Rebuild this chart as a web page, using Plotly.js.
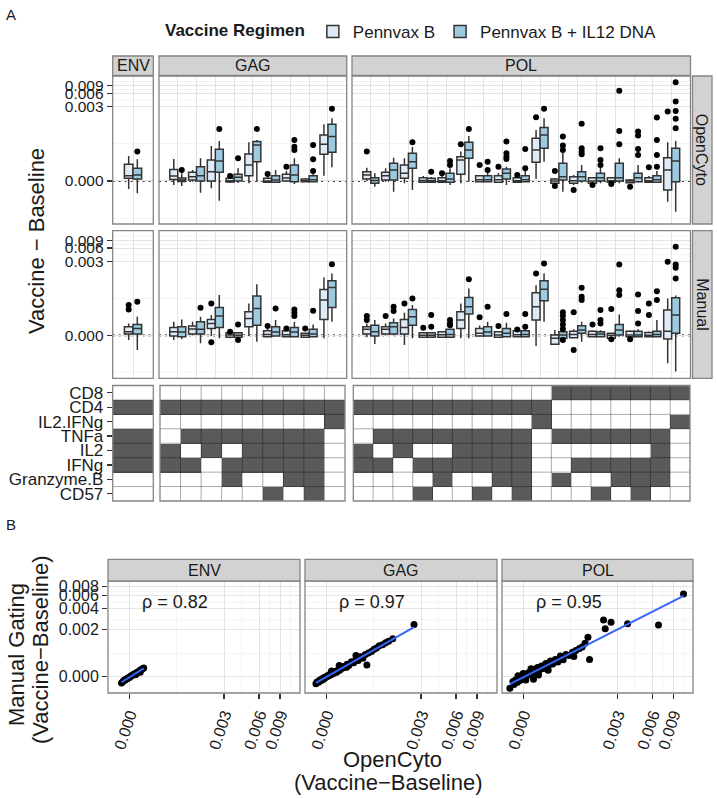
<!DOCTYPE html>
<html><head><meta charset="utf-8">
<script src="https://cdn.plot.ly/plotly-3.0.1.min.js"></script>
<style>html,body{margin:0;padding:0;background:#fff}#chart{width:717px;height:798px}</style>
</head><body><div id="chart"></div>
<script>
// ================= DATA =================
// All frequencies (Vaccine - Baseline) are stored in units of 1e-4.
const SCALE = 1e-4;
const regimens = ['Pennvax B', 'Pennvax B + IL12 DNA'];
const antigens = ['ENV', 'GAG', 'POL'];
const methods = ['OpenCyto', 'Manual'];
const markerNames = ['CD8', 'CD4', 'IL2.IFNg', 'TNFa', 'IL2', 'IFNg', 'Granzyme.B', 'CD57'];
const aTickVals = [0, 0.003, 0.006, 0.009];
const aTickText = ['0.000', '0.003', '0.006', '0.009'];
const bXTickVals = [0, 0.003, 0.006, 0.009];
const bXTickText = ['0.000', '0.003', '0.006', '0.009'];
const bYTickVals = [0, 0.002, 0.004, 0.006, 0.008];
const bYTickText = ['0.000', '0.002', '0.004', '0.006', '0.008'];
const rhoLabels = ['\u03c1 = 0.82', '\u03c1 = 0.97', '\u03c1 = 0.95'];

// Box rows: [lower whisker, q1, median, q3, upper whisker]
// ---- OpenCyto ----
const ocEnvB = [[-0.52,0.17,0.34,1.20,2.08]];
const ocEnvBOut = [[]];
const ocEnvI = [[-0.83,0.13,0.39,0.86,1.69]];
const ocEnvIOut = [[2.68]];

const ocGagB = [[-0.25,0.095,0.32,0.77,1.72],[-0.044,0.063,0.27,0.57,0.73],[-0.47,0,0.61,1.61,3.69],
 [-0.127,-0.063,0.019,0.17,0.19],[-0.146,0.34,1.13,2.34,4.53],[-0.127,-0.082,0,0.17,0.32],
 [-0.063,0,0.19,0.43,0.66],[-0.063,-0.044,0,0.127,0.19],[0.34,2.30,4.06,6.71,11.85]];
const ocGagBOut = [[],[],[],[0.32],[],[0.45],[0.99],[],[]];
const ocGagI = [[-0.32,-0.032,0.063,0.19,0.50],[-0.79,0,0.34,0.99,1.80],[-1.48,0.57,1.51,3.07,4.86],
 [-0.127,0,0.235,0.43,0.86],[-0.044,1.44,3.90,4.68,5.12],[-0.127,-0.082,0.063,0.34,0.73],
 [-0.19,-0.044,0.39,1.13,1.80],[-0.063,-0.044,0.082,0.34,0.45],[0.94,2.59,6.12,11.85,16.3]];
const ocGagIOut = [[0.73],[],[9.24],[1.80],[9.24],[],[2.95,3.55,5.12],[0.66,1.69,3.90],[26.6]];

const ocPolB = [[0,0.127,0.39,0.61,0.91],[-0.044,0.063,0.34,0.57,0.86],[-0.146,0.17,0.50,1.13,1.80],
 [-0.127,-0.082,0.032,0.21,0.32],[-0.127,-0.082,0.019,0.21,0.32],[-0.146,0.43,1.61,1.99,2.68],
 [-0.063,-0.044,0.082,0.34,0.34],[-0.127,-0.082,0.082,0.34,0.52],[-0.127,-0.082,0.019,0.21,0.32],
 [0.127,1.38,2.95,5.62,8.76],[-0.19,-0.146,0,0.127,0.19],[-0.25,-0.146,0.019,0.27,0.39],
 [-0.146,-0.146,0,0.21,0.25],[-0.108,-0.082,0.019,0.21,0.25],[-0.127,-0.108,0,0.063,0.127],
 [-0.127,-0.082,0.019,0.21,0.32],[-1.58,-0.59,0.73,1.87,4.53]];
const ocPolBOut = [[2.68],[],[],[],[0.50],[4.06],[1.13],[0.99],[0.39],[17.1],[0.66,-0.32],[-0.59],
 [-0.25],[-0.19],[-0.37],[0.94],[23.1]];
const ocPolI = [[-0.37,-0.146,0.032,0.21,0.50],[-0.71,0.063,0.73,1.29,1.87],[-0.59,0.86,1.44,2.44,3.49],
 [-0.127,-0.082,0.019,0.17,0.25],[-0.25,-0.082,0.127,0.50,0.86],[-0.044,1.80,2.95,4.53,6.36],
 [-0.063,-0.044,0.082,0.34,0.59],[-0.25,0.127,0.50,0.81,0.99],[-0.063,-0.044,0.082,0.34,0.66],
 [1.44,3.25,6.71,9.9,16.3],[-0.71,0.063,0.27,1.29,2.48],[-0.108,0,0.27,0.61,1.13],
 [-0.146,0,0.21,0.50,0.89],[-0.146,0,0.21,1.29,1.80],[-0.108,-0.044,0.21,0.50,1.13],
 [-0.127,-0.082,0.082,0.34,0.66],[-2.90,-0.044,1.51,3.25,4.86]];
const ocPolIOut = [[],[],[4.53],[0.61],[1.13,1.51],[9.24],[0.73,1.44],[1.72,1.99,2.44,4.68],[0.86,3.12],
 [26.6],[2.95,3.76,6.12],[2.30,2.68,3.25,12.05],[1.13,1.61,3.25],[4.06,8.30,68.6],[2.21,3.12,6.46,8.0],
 [0.99,2.21,5.12,16.8],[9.59,15.7,23.9,39.1,108.5]];

// ---- Manual ----
const mnEnvB = [[-0.30,0.082,0.235,0.57,0.81]];
const mnEnvBOut = [[2.21,2.84]];
const mnEnvI = [[-1.02,0.082,0.45,0.73,1.38]];
const mnEnvIOut = [[3.44]];

const mnGagB = [[-0.30,-0.044,0.235,0.52,0.94],[0,0.082,0.41,0.61,0.94],[-0.044,0.45,0.81,1.13,1.54],
 [-0.19,-0.127,0.019,0.17,0.19],[-0.044,0.57,1.22,1.92,3.12],[-0.127,-0.082,0.063,0.30,0.45],
 [-0.127,-0.082,0.032,0.30,0.32],[-0.146,-0.127,0,0.127,0.146],[-0.19,1.13,3.76,6.71,12.7]];
const mnGagBOut = [[],[],[3.12,-0.45],[0.235],[],[0.61],[0.45],[0.45],[]];
const mnGagI = [[-0.25,-0.082,0.21,0.57,1.13],[-0.52,0.082,0.39,0.94,1.38],[-0.19,0.52,1.44,2.48,4.94],
 [-0.19,-0.127,0,0.17,0.21],[-0.41,0.68,2.34,4.68,8.9],[-0.082,-0.044,0.21,0.57,1.08],
 [-0.082,-0.082,0.21,0.52,0.94],[-0.127,-0.082,0.082,0.39,0.73],[0.94,2.48,7.46,10.66,15.7]];
const mnGagIOut = [[],[2.44],[],[0.73,-0.30],[],[2.34],[1.44,1.80,2.21],[2.04],[25.6]];

const mnPolB = [[-0.127,0.082,0.39,0.57,0.81],[0,0.082,0.39,0.57,0.81],[-0.64,0.082,0.52,1.13,1.80],
 [-0.146,-0.127,0,0.17,0.21],[-0.146,-0.127,0.032,0.235,0.255],[-0.19,0.45,1.08,1.92,3.12],
 [-0.082,-0.044,0.127,0.45,0.66],[-0.146,-0.127,0.019,0.235,0.27],[-0.127,-0.082,0.032,0.30,0.30],
 [-0.71,1.08,2.59,5.62,8.44],[-0.59,-0.59,-0.19,0.019,0.34],[-0.19,-0.146,0.063,0.27,0.39],
 [-0.127,-0.082,0.063,0.27,0.32],[-0.21,-0.19,0,0.127,0.19],[-0.127,-0.082,0.019,0.27,0.32],
 [-0.127,-0.082,0,0.19,0.25],[-2.48,-0.235,0.27,2.12,4.12]];
const mnPolBOut = [[1.08,1.44],[1.44],[3.12],[0.50],[],[],[1.32],[0.61],[0.37],[15.7],[],[1.84,-1.02],
 [0.73],[2.25,-0.25],[-0.25],[1.54,3.12],[29.1]];
const mnPolI = [[-0.57,-0.044,0.235,0.68,1.08],[0,0.082,0.57,0.86,1.22],[-0.19,0.68,1.38,2.21,2.84],
 [-0.146,-0.127,0,0.17,0.21],[-0.146,-0.127,0.063,0.39,0.45],[-0.19,1.65,2.59,4.36,7.08],
 [-0.082,-0.044,0.21,0.57,0.94],[-0.127,-0.082,0.127,0.45,0.86],[-0.127,-0.082,0.063,0.30,0.39],
 [0.94,3.63,6.82,10.66,15.7],[-0.19,-0.19,0.019,0.235,0.32],[-0.41,0.127,0.34,0.64,0.94],
 [-0.108,-0.082,0.082,0.235,0.32],[-0.082,0.019,0.34,0.73,1.61],[-0.127,-0.082,0.019,0.27,0.39],
 [-0.127,-0.082,0.063,0.27,1.08],[-3.97,0.127,1.54,4.29,4.86]];
const mnPolIOut = [[],[1.99,2.59],[4.12],[0.57,1.54],[0.68,0.81,1.08],[11.6],[2.59],[1.65],[0.57,1.65],
 [26.6],[0.41,0.73,1.08,1.48,1.84,-0.30],[3.76,4.53,7.35],[0.81,1.08,2.12],[4.94,6.46,25.2],
 [0.81,1.99,5.12],[3.76,6.12],[12.05,21.2,25.2,64.1]];

// ---- Marker combination grid (rows = markerNames, 1 = marker included) ----
const envTiles = ['0','1','0','1','1','1','0','0'];
const gagTiles = ['000000000','111111111','000000001','011111110','101011110','110111110','000100110','000001010'];
const polTiles = ['00000000001111111','11111111110000000','00000000010000001','01111111101111110',
 '10100111100000010','11011111100111110','00001001101001110','00010010100010100'];

// ---- Panel B: OpenCyto (x) vs Manual (y), units of 1e-4 ----
const envOC = [-1.5,-1.2,-1.0,-0.8,-0.6,-0.4,-0.2,0.0,0.2,0.4,0.6,0.8,1.0,1.3,1.5,1.8,2.0,2.3,2.5,2.8,1.2,2.1];
const envMN = [-1.9,-1.5,-1.1,-1.0,-0.7,-0.6,-0.3,-0.2,0.1,0.2,0.5,0.6,0.9,1.0,1.4,1.5,1.9,2.2,2.4,2.7,0.6,1.4];
const gagOC = [-2.0,-1.8,-1.5,-1.3,-1.1,-0.9,-0.7,-0.5,-0.3,-0.1,0.1,0.3,0.5,0.7,0.9,1.1,1.4,1.7,2.0,2.3,2.6,3.0,
 3.3,3.7,4.1,4.5,5.0,5.5,6.0,6.5,7.0,7.6,8.2,8.6,9.0,9.8,10.5,11.2,12.0,13.0,14.0,15.0,16.5,26.0,1.0,2.5,4.0,6.0];
const gagMN = [-2.2,-1.6,-1.7,-1.1,-1.2,-0.7,-0.9,-0.3,-0.5,0.0,0.0,0.4,0.3,0.8,0.6,1.2,1.0,1.6,1.4,2.2,2.0,2.6,
 3.2,3.0,3.9,3.6,4.8,4.4,5.6,5.2,6.5,6.0,7.4,3.7,8.0,8.6,9.5,10.0,11.0,11.5,12.5,13.2,14.5,24.0,1.8,3.5,3.0,7.0];
const polOC = [-2.6,-2.0,-1.8,-1.5,-1.2,-1.0,-0.8,-0.6,-0.4,-0.2,0.0,0.2,0.4,0.6,0.8,1.0,1.3,1.6,1.9,2.2,2.5,2.8,
 3.2,3.6,4.0,4.5,5.0,5.5,6.0,6.6,7.2,7.8,8.5,9.2,10.0,11.0,12.0,13.1,14.0,15.0,16.0,16.6,11.4,22.5,26.3,23.3,
 36.8,67.6,110.0,-1.0,0.5,1.5,3.0,5.0,0.0,2.0];
const polMN = [-3.65,-1.5,-2.4,-1.0,-1.8,-0.6,-1.3,-0.2,-0.9,0.1,-0.5,0.5,0.0,0.8,0.4,1.2,0.7,1.9,1.2,2.3,1.6,2.9,
 2.1,3.4,2.6,4.2,3.2,5.0,4.0,5.6,4.7,6.8,5.5,7.4,7.0,8.3,9.0,9.8,10.5,12.2,15.3,5.6,6.6,27.7,25.7,20.8,
 24.5,23.5,63.3,0.3,-1.0,2.5,0.5,2.0,1.0,-0.8];

// ================= SCALES / LAYOUT HELPERS =================
const CA = 1.2e-4, CB = 1e-3;
const TA = v => Math.asinh(v / CA);   // panel A arcsinh scale
const TB = v => Math.asinh(v / CB);   // panel B arcsinh scale
const W = 717, H = 798;
const fx = p => p / W, fy = p => 1 - p / H;
const FONT = 'Liberation Sans, Arial, Helvetica, sans-serif';
const GRID = '#e3e3e3', MINOR = '#f3f3f3', BORDER = '#858585', STRIP = '#d2d2d2', TXT = '#1a1a1a';
const fills = ['#deebf7', '#9ecae1'];

function minorOf(ticks, lo, hi) {
  const t = ticks.slice().sort((a,b)=>a-b), m = [];
  for (let i = 0; i < t.length - 1; i++) m.push((t[i] + t[i+1]) / 2);
  const d0 = (t[1]-t[0])/2, d1 = (t[t.length-1]-t[t.length-2])/2;
  if (t[0]-d0 > lo) m.push(t[0]-d0);
  if (t[t.length-1]+d1 < hi) m.push(t[t.length-1]+d1);
  return m;
}

const traces = [];
const shapes = [];
const annotations = [];

// ---------- Panel A boxplots ----------
const boxXAx = ['x', 'x2', 'x3'];
const boxYAx = ['y', 'y2'];
const boxSets = [
  [0,0,ocEnvB,ocEnvBOut,ocEnvI,ocEnvIOut],[0,1,ocGagB,ocGagBOut,ocGagI,ocGagIOut],[0,2,ocPolB,ocPolBOut,ocPolI,ocPolIOut],
  [1,0,mnEnvB,mnEnvBOut,mnEnvI,mnEnvIOut],[1,1,mnGagB,mnGagBOut,mnGagI,mnGagIOut],[1,2,mnPolB,mnPolBOut,mnPolI,mnPolIOut]
];
const BOXGAP = 0.15, OFF = (1 - BOXGAP) / 4;
boxSets.forEach((s, k) => {
  const [m, a] = s;
  const xa = boxXAx[a], ya = boxYAx[m];
  [[s[2], s[3]], [s[4], s[5]]].forEach(([st, out], r) => {
    const xs = st.map((_, i) => i + 1);
    traces.push({
      type: 'box', name: regimens[r], legendgroup: 'g' + r, offsetgroup: 'g' + r, showlegend: k === 0,
      x: xs,
      lowerfence: st.map(d => TA(d[0]*SCALE)), q1: st.map(d => TA(d[1]*SCALE)),
      median: st.map(d => TA(d[2]*SCALE)), q3: st.map(d => TA(d[3]*SCALE)),
      upperfence: st.map(d => TA(d[4]*SCALE)),
      xaxis: xa, yaxis: ya, fillcolor: fills[r], line: {color: '#333333', width: 1.5},
      whiskerwidth: 0, boxpoints: false, hoverinfo: 'skip'
    });
  });
  [[s[3], -OFF], [s[5], OFF]].forEach(([out, off]) => {
    const ox = [], oy = [];
    out.forEach((arr, i) => arr.forEach(v => { ox.push(i + 1 + off); oy.push(TA(v*SCALE)); }));
    traces.push({type: 'scatter', mode: 'markers', x: ox, y: oy, xaxis: xa, yaxis: ya,
      marker: {color: '#000', size: 6}, showlegend: false, hoverinfo: 'skip'});
  });
});

// ---------- Tile grid ----------
const tileSets = [envTiles, gagTiles, polTiles];
const tileXAx = ['x4', 'x5', 'x6'];
tileSets.forEach((rows, a) => {
  const n = rows[0].length;
  traces.push({
    type: 'heatmap', xaxis: tileXAx[a], yaxis: 'y3',
    x: Array.from({length: n}, (_, i) => i + 1), y: markerNames.map((_, i) => i + 1),
    z: rows.map(r => r.split('').map(Number)), zmin: 0, zmax: 1,
    colorscale: [[0, '#ffffff'], [1, '#5a5a5a']], showscale: false, hoverinfo: 'skip'
  });
  const xr = tileXAx[a];
  for (let c = 1; c < n; c++) shapes.push({type: 'line', xref: xr, yref: 'y3', x0: c + 0.5, x1: c + 0.5, y0: 0.5, y1: 8.5,
    line: {color: 'rgba(0,0,0,0.42)', width: 0.8}, layer: 'above'});
  for (let rr = 1; rr < 8; rr++) shapes.push({type: 'line', xref: xr + ' domain', yref: 'y3', x0: 0, x1: 1, y0: rr + 0.5, y1: rr + 0.5,
    line: {color: 'rgba(0,0,0,0.42)', width: 0.8}, layer: 'above'});
});

// ---------- Panel B scatter ----------
const bSets = [[envOC, envMN], [gagOC, gagMN], [polOC, polMN]];
const bXAx = ['x7', 'x8', 'x9'];
bSets.forEach(([ox, oy], a) => {
  const X = ox.map(v => TB(v*SCALE)), Y = oy.map(v => TB(v*SCALE));
  traces.push({type: 'scatter', mode: 'markers', x: X, y: Y, xaxis: bXAx[a], yaxis: 'y4',
    marker: {color: '#000', size: 7}, showlegend: false, hoverinfo: 'skip'});
  const n = X.length, mx = X.reduce((p,c)=>p+c,0)/n, my = Y.reduce((p,c)=>p+c,0)/n;
  let sxy = 0, sxx = 0;
  for (let i = 0; i < n; i++) { sxy += (X[i]-mx)*(Y[i]-my); sxx += (X[i]-mx)**2; }
  const b = sxy / sxx, a0 = my - b*mx;
  const x0 = Math.min(...X), x1 = Math.max(...X);
  traces.push({type: 'scatter', mode: 'lines', x: [x0, x1], y: [a0 + b*x0, a0 + b*x1], xaxis: bXAx[a], yaxis: 'y4',
    line: {color: '#3366FF', width: 2}, showlegend: false, hoverinfo: 'skip'});
  annotations.push({xref: bXAx[a], yref: 'y4', x: TB(0.001), y: TB(0.005), text: rhoLabels[a], showarrow: false,
    font: {size: 18, color: TXT}});
});

// ---------- Axes ----------
const aRange = [-2.264, 5.52];
const aTicksT = aTickVals.map(TA);
const aMinor = minorOf(aTicksT, aRange[0], aRange[1]);
const boxXDom = [[112.7, 153.3], [159, 346.7], [352, 690.5]];
const boxXRange = [[0, 2], [0, 10], [0, 18]];
const nCats = [1, 9, 17];
const rowDom = [[76, 224], [230.7, 378.3]];
const tileXDom = [[112.7, 153.3], [160, 345], [353.3, 690]];
const bXDom = [[108, 300], [305, 497], [502, 693]];
const bXRange = [-0.409, 3.276], bYRange = [-0.50, 2.945];
const bXT = bXTickVals.map(TB), bYT = bYTickVals.map(TB);

const layout = {
  width: W, height: H, margin: {l: 0, r: 0, t: 0, b: 0},
  paper_bgcolor: '#fff', plot_bgcolor: '#fff',
  font: {family: FONT, size: 15, color: TXT},
  boxmode: 'group', boxgap: BOXGAP, boxgroupgap: 0,
  showlegend: true,
  legend: {orientation: 'h', x: fx(163), y: fy(14), xanchor: 'left', yanchor: 'top',
    title: {text: '<b>Vaccine Regimen</b>', side: 'left', font: {size: 17}},
    font: {size: 17, color: TXT}, bgcolor: 'rgba(0,0,0,0)', itemwidth: 30, tracegroupgap: 0},
  shapes, annotations
};
const axNames = ['xaxis', 'xaxis2', 'xaxis3'];
axNames.forEach((nm, a) => {
  layout[nm] = {domain: [fx(boxXDom[a][0]), fx(boxXDom[a][1])], range: boxXRange[a], anchor: 'y2',
    tickmode: 'array', tickvals: Array.from({length: nCats[a]}, (_, i) => i + 1), showticklabels: false, ticks: '',
    showgrid: true, gridcolor: GRID, gridwidth: 1, zeroline: false, showline: false, fixedrange: true};
});
['yaxis', 'yaxis2'].forEach((nm, m) => {
  layout[nm] = {domain: [fy(rowDom[m][1]), fy(rowDom[m][0])], range: aRange, anchor: 'x',
    tickmode: 'array', tickvals: aTicksT, ticktext: aTickText, ticks: 'outside', ticklen: 5, tickwidth: 1.3,
    tickcolor: '#333', tickfont: {size: 15.5, color: TXT}, showgrid: true, gridcolor: GRID, gridwidth: 1,
    minor: {tickmode: 'array', tickvals: aMinor, showgrid: true, gridcolor: MINOR, gridwidth: 0.8, ticks: ''},
    zeroline: false, showline: false};
});
['xaxis4', 'xaxis5', 'xaxis6'].forEach((nm, a) => {
  layout[nm] = {domain: [fx(tileXDom[a][0]), fx(tileXDom[a][1])], range: [0.5, nCats[a] + 0.5], anchor: 'y3',
    showticklabels: false, ticks: '', showgrid: false, zeroline: false, showline: false};
});
layout.yaxis3 = {domain: [fy(501), fy(385.5)], range: [8.5, 0.5], anchor: 'x4', tickmode: 'array',
  tickvals: markerNames.map((_, i) => i + 1), ticktext: markerNames, ticks: 'outside', ticklen: 5, tickwidth: 1.3,
  tickcolor: '#333', tickfont: {size: 17, color: TXT}, showgrid: false, zeroline: false, showline: false};
['xaxis7', 'xaxis8', 'xaxis9'].forEach((nm, a) => {
  layout[nm] = {domain: [fx(bXDom[a][0]), fx(bXDom[a][1])], range: bXRange, anchor: 'y4',
    tickmode: 'array', tickvals: bXT, ticktext: bXTickText, tickangle: -72, ticks: 'outside', ticklen: 5,
    tickwidth: 1.3, tickcolor: '#333', tickfont: {size: 16, color: TXT}, showgrid: true, gridcolor: GRID,
    minor: {tickmode: 'array', tickvals: minorOf(bXT, bXRange[0], bXRange[1]), showgrid: true, gridcolor: MINOR, gridwidth: 0.8, ticks: ''},
    zeroline: false, showline: false};
});
layout.yaxis4 = {domain: [fy(693), fy(581)], range: bYRange, anchor: 'x7', tickmode: 'array', tickvals: bYT,
  ticktext: bYTickText, ticks: 'outside', ticklen: 5, tickwidth: 1.3, tickcolor: '#333',
  tickfont: {size: 16, color: TXT}, showgrid: true, gridcolor: GRID,
  minor: {tickmode: 'array', tickvals: minorOf(bYT, bYRange[0], bYRange[1]), showgrid: true, gridcolor: MINOR, gridwidth: 0.8, ticks: ''},
  zeroline: false, showline: false};

// ---------- Panel borders, zero lines, strips ----------
const border = (xr, yr) => shapes.push({type: 'rect', xref: xr + ' domain', yref: yr + ' domain', x0: 0, x1: 1, y0: 0, y1: 1,
  line: {color: BORDER, width: 1.3}, fillcolor: 'rgba(0,0,0,0)', layer: 'above'});
boxYAx.forEach(ya => boxXAx.forEach(xa => {
  border(xa, ya);
  shapes.push({type: 'line', xref: xa + ' domain', yref: ya, x0: 0, x1: 1, y0: TA(0), y1: TA(0),
    line: {color: '#000', width: 1.8, dash: '2px,4px'}, layer: 'below'});
}));
tileXAx.forEach(xa => border(xa, 'y3'));
bXAx.forEach(xa => border(xa, 'y4'));

const strip = (x0, x1, y0, y1, text, angle) => {
  shapes.push({type: 'rect', xref: 'paper', yref: 'paper', x0: fx(x0), x1: fx(x1), y0: fy(y1), y1: fy(y0),
    line: {color: BORDER, width: 1.3}, fillcolor: STRIP, layer: 'above'});
  annotations.push({xref: 'paper', yref: 'paper', x: fx((x0 + x1) / 2), y: fy((y0 + y1) / 2), text: text,
    showarrow: false, textangle: angle || 0, font: {size: 16, color: TXT}, xanchor: 'center', yanchor: 'middle'});
};
antigens.forEach((ag, a) => strip(boxXDom[a][0], boxXDom[a][1], 56, 75.5, ag));
methods.forEach((mt, m) => strip(692.5, 712, rowDom[m][0], rowDom[m][1], mt, 90));
antigens.forEach((ag, a) => strip(bXDom[a][0], bXDom[a][1], 559.3, 581, ag));

// ---------- Titles / labels ----------
const txt = (x, y, text, size, angle, extra) => annotations.push(Object.assign({xref: 'paper', yref: 'paper',
  x: fx(x), y: fy(y), text: text, showarrow: false, textangle: angle || 0, font: {size: size, color: TXT},
  xanchor: 'center', yanchor: 'middle'}, extra || {}));
txt(4, 14, 'A', 15, 0, {xanchor: 'left'});
txt(4, 524, 'B', 15, 0, {xanchor: 'left'});
txt(37, 241, 'Vaccine \u2212 Baseline', 22, -90);
txt(16, 655, 'Manual Gating', 22, -90);
txt(40, 650, '(Vaccine\u2212Baseline)', 22, -90);
txt(392, 759, 'OpenCyto', 22, 0);
txt(388, 782, '(Vaccine\u2212Baseline)', 22, 0);

Plotly.newPlot('chart', traces, layout, {staticPlot: true, displayModeBar: false});
</script></body></html>
